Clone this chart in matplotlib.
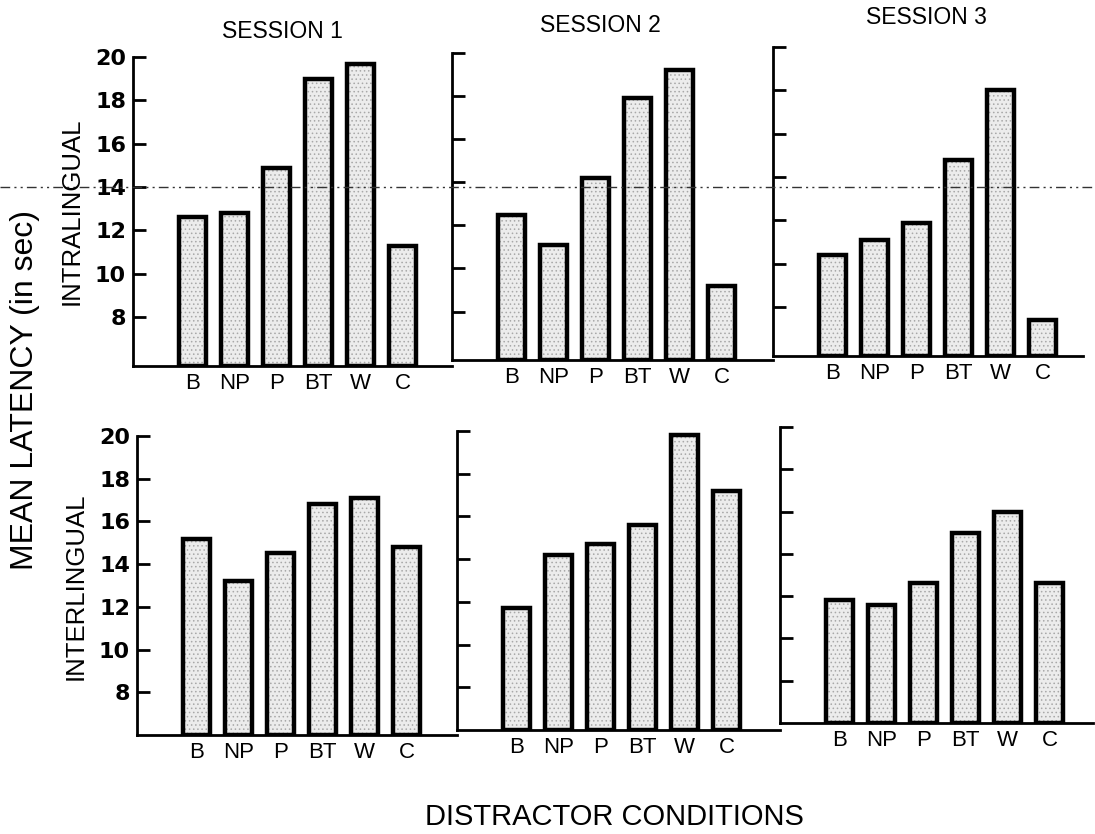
import matplotlib
matplotlib.use("Agg")
import matplotlib.pyplot as plt
from matplotlib.lines import Line2D

# ── データ ───────────────────────────────────────────
CONDITIONS = ['B', 'NP', 'P', 'BT', 'W', 'C']
SESSIONS = ['SESSION 1', 'SESSION 2', 'SESSION 3']

# mean latency (sec), one list per session
INTRA = [
    [12.6, 12.8, 14.9, 19.0, 19.7, 11.3],
    [12.5, 11.1, 14.2, 17.9, 19.2, 9.2],
    [10.4, 11.1, 11.9, 14.8, 18.0, 7.4],
]
INTER = [
    [15.2, 13.2, 14.5, 16.8, 17.1, 14.8],
    [11.7, 14.2, 14.7, 15.6, 19.8, 17.2],
    [11.8, 11.6, 12.6, 15.0, 16.0, 12.6],
]
YTICKS = [8, 10, 12, 14, 16, 18, 20]
REF_LINE = 14

# ── レイアウト (px) ───────────────────────────────────
W, H = 1095, 834
PX_UNIT = 42.0   # px per bar slot
X0 = -1.42
# (left spine, y of 20, right end, baseline)
TOP_BOX = [(133, 57, 452, 366), (452, 53, 773, 360), (773, 47, 1083, 356)]
BOT_BOX = [(137, 436, 457, 735), (457, 431, 780, 730), (780, 427, 1093, 723)]

plt.rcParams['font.family'] = ['Liberation Sans', 'DejaVu Sans']
plt.rcParams['hatch.linewidth'] = 0.6

fig = plt.figure(figsize=(W / 100, H / 100), dpi=100, facecolor='white')


def make_panel(box, vals, ymin, show_y):
    l, t, r, b = box
    ax = fig.add_axes([l / W, 1 - b / H, (r - l) / W, (b - t) / H])
    ax.set_facecolor('none')
    x = range(len(CONDITIONS))
    # stipple fill, then heavy outline
    ax.bar(x, [v - ymin for v in vals], bottom=ymin, width=0.64,
           color='#ececec', edgecolor='#a8a8a8', hatch='....', linewidth=0, zorder=3)
    ax.bar(x, [v - ymin for v in vals], bottom=ymin, width=0.64,
           fill=False, edgecolor='black', linewidth=3.2, zorder=4)
    ax.set_xlim(X0, X0 + (r - l) / PX_UNIT)
    ax.set_ylim(ymin, 20)
    for s in ['top', 'right']:
        ax.spines[s].set_visible(False)
    for s in ['left', 'bottom']:
        ax.spines[s].set_linewidth(2.0)
        ax.spines[s].set_zorder(5)
    ax.set_yticks(YTICKS)
    ax.tick_params(axis='y', direction='in', length=9, width=2.0, pad=5)
    if show_y:
        ax.set_yticklabels([str(v) for v in YTICKS], fontsize=16,
                           fontweight='bold', family='DejaVu Sans')
    else:
        ax.set_yticklabels([])
    ax.set_xticks(list(x))
    ax.set_xticklabels(CONDITIONS, fontsize=16)
    ax.tick_params(axis='x', length=0, pad=5)
    return ax


top_axes = [make_panel(TOP_BOX[i], INTRA[i], 5.75, i == 0) for i in range(3)]
bot_axes = [make_panel(BOT_BOX[i], INTER[i], 6.0, i == 0) for i in range(3)]

# dash-dot reference line across the whole top row
_, y_ref = fig.transFigure.inverted().transform(top_axes[0].transData.transform((0, REF_LINE)))
fig.add_artist(Line2D([0, 1], [y_ref, y_ref], transform=fig.transFigure,
                      color='#333333', linewidth=1.0,
                      linestyle=(0, (7, 3, 1.5, 3, 1.5, 3)), zorder=1))

# session titles
for (cx, cy), name in zip([(282, 32), (600, 25), (926, 18)], SESSIONS):
    fig.text(cx / W, 1 - cy / H, name, ha='center', va='center', fontsize=16.5)

fig.text(72 / W, 1 - 211 / H, 'INTRALINGUAL', rotation=90, ha='center', va='center', fontsize=18.5)
fig.text(76 / W, 1 - 586 / H, 'INTERLINGUAL', rotation=90, ha='center', va='center', fontsize=18.5)
fig.text(25 / W, 1 - 390 / H, 'MEAN LATENCY (in sec)', rotation=90,
         ha='center', va='center', fontsize=23)
fig.text(614 / W, 1 - 817 / H, 'DISTRACTOR CONDITIONS', ha='center', va='center', fontsize=21)

fig.savefig('out.png', dpi=100, facecolor='white')
